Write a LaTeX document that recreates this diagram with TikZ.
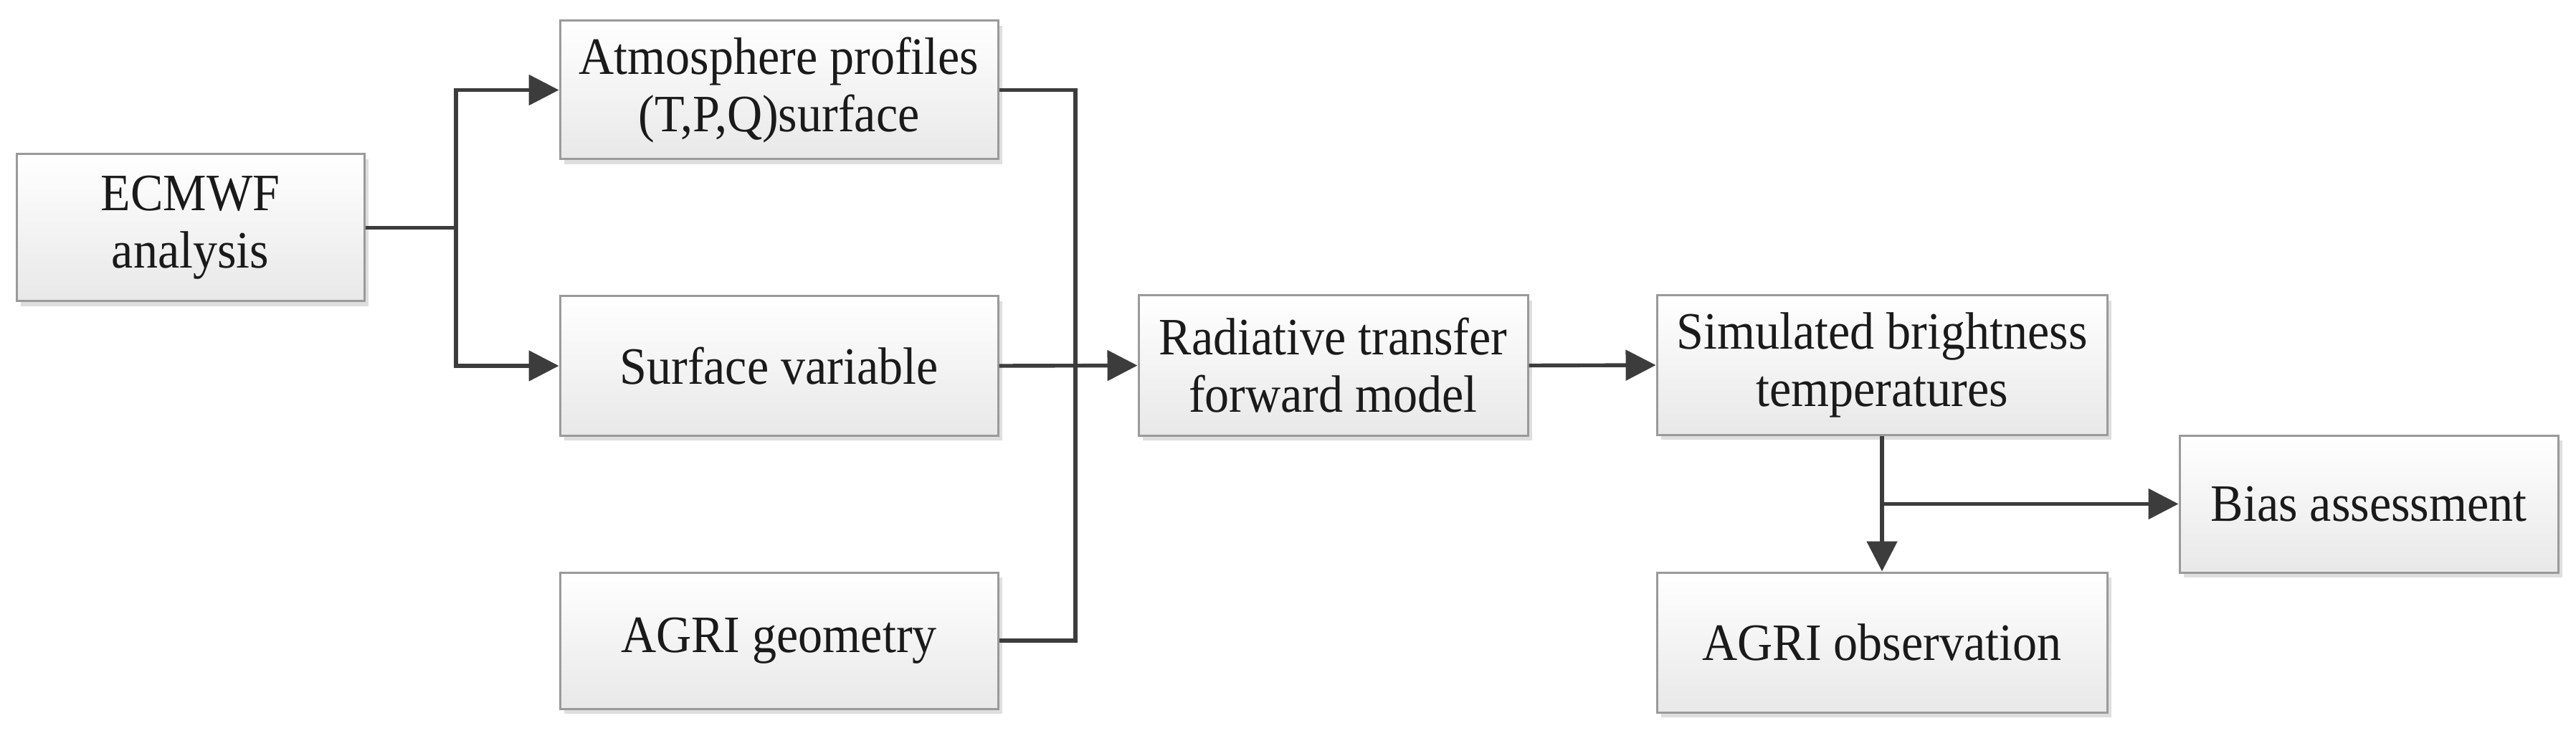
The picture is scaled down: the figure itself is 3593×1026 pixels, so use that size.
\documentclass[tikz,border=0pt]{standalone}
\usepackage{fontspec}
\setmainfont[FakeStretch=0.93]{Liberation Serif}
\usetikzlibrary{arrows.meta,shadows,calc}
\definecolor{linecol}{HTML}{3C3C3C}
\definecolor{bordercol}{HTML}{9A9A9A}
\definecolor{textcol}{HTML}{1A1A1A}
\begin{document}
\begin{tikzpicture}[x=0.25pt,y=-0.25pt,
  box/.style={draw=bordercol, line width=0.75pt, shading=axis, top color=white, bottom color=black!9,
    drop shadow={shadow xshift=1.6pt, shadow yshift=-1.8pt, fill=black, opacity=0.13},
    inner sep=0pt, align=center, text=textcol,
    font=\fontsize{18.3}{20}\selectfont},
  conn/.style={draw=linecol, line width=1.35pt},
  arr/.style={conn, -{Triangle[length=10.5pt,width=10.5pt]}}]
\useasboundingbox (0,0) rectangle (3593,1026);
\node[box, minimum width=121.25pt, minimum height=51.25pt] (ecmwf) at (265.5,317.5) {ECMWF\\analysis};
\node[box, minimum width=152.75pt, minimum height=48.25pt] (atm) at (1086.5,125.5) {Atmosphere profiles\\(T,P,Q)surface};
\node[box, minimum width=152.75pt, minimum height=48.5pt] (surf) at (1086.5,510) {Surface variable};
\node[box, minimum width=152.75pt, minimum height=47.5pt] (geom) at (1086.5,893) {AGRI geometry};
\node[box, minimum width=135.75pt, minimum height=48.75pt] (rad) at (1859.5,509.5) {Radiative transfer\\forward model};
\node[box, minimum width=157pt, minimum height=48.5pt] (sim) at (2625,509) {Simulated brightness\\temperatures};
\node[box, minimum width=157pt, minimum height=48.75pt] (obs) at (2625,895.5) {AGRI observation};
\node[box, minimum width=132pt, minimum height=47.75pt] (bias) at (3304,702.5) {Bias assessment};
\coordinate (br) at (636,317.5);
\coordinate (col) at (1500,510);
\coordinate (bb) at (sim.south |- bias.west);
\draw[conn] (ecmwf.east) -- (br);
\draw[arr] (br) |- (atm.west);
\draw[arr] (br) |- (surf.west);
\draw[conn] (atm.east) -| (col) |- (geom.east);
\draw[arr] (surf.east) -- (rad.west);
\draw[arr] (rad.east) -- (sim.west);
\draw[arr] (sim.south) -- (obs.north);
\draw[arr] (bb) -- (bias.west);
\end{tikzpicture}
\end{document}
